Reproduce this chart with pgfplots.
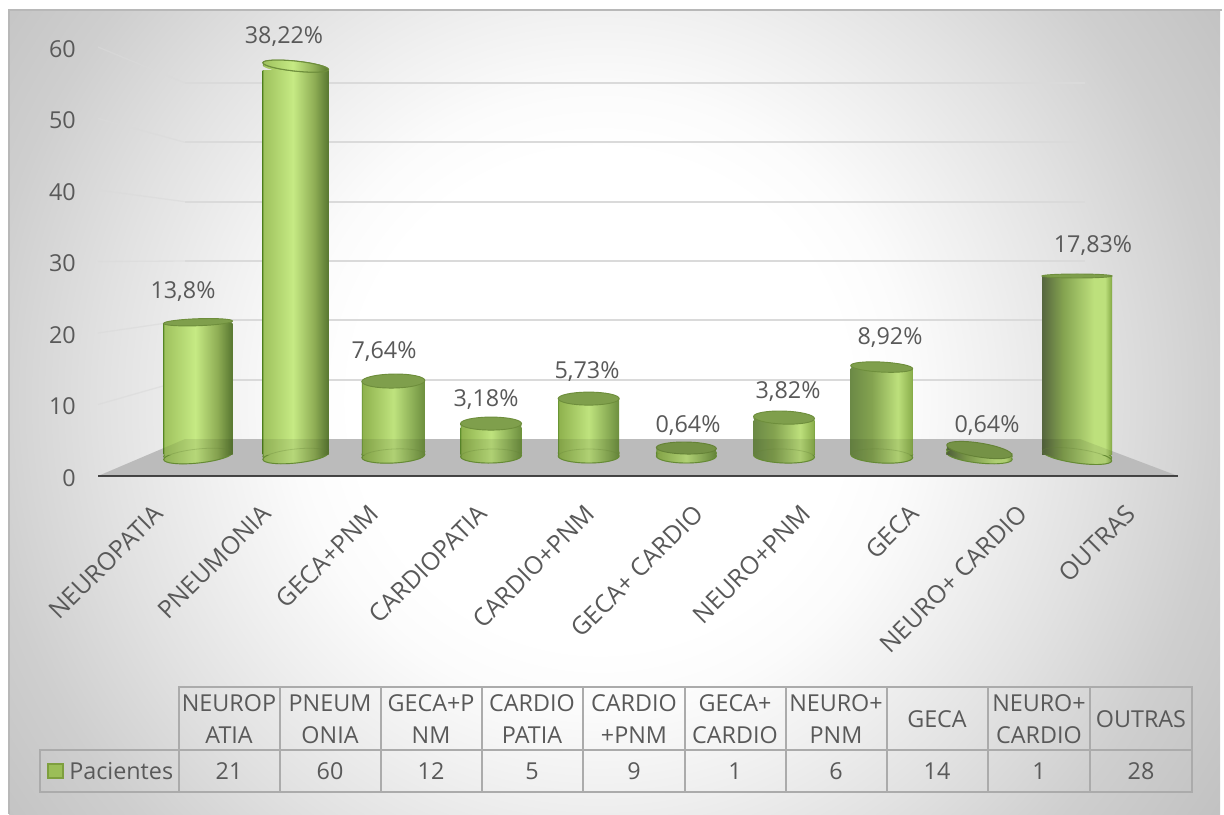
\documentclass[border=0pt]{standalone}
\usepackage{fontspec}
\setmainfont{Open Sans}
\usepackage{pgfplots}
\pgfplotsset{compat=1.18}

\definecolor{inkgray}{HTML}{595959}
\definecolor{gridgray}{HTML}{DADADA}
\definecolor{floorgray}{HTML}{CBCBCB}
\definecolor{tablegray}{HTML}{ABABAB}
\definecolor{rimgreen}{HTML}{6F9A38}
\definecolor{capgreen}{HTML}{7F9F4C}
\definecolor{capedge}{HTML}{6E8E3C}

% Backdrop glow: white around the middle, gray towards the corners
\pgfdeclareradialshading{backdrop}{\pgfpoint{0bp}{0bp}}{%
  color(0bp)=(white); color(10bp)=(white);
  rgb(12.5bp)=(0.985,0.985,0.985); rgb(16bp)=(0.94,0.94,0.94);
  rgb(20bp)=(0.885,0.885,0.885); rgb(25bp)=(0.81,0.81,0.81);
  rgb(30bp)=(0.76,0.76,0.76); rgb(50bp)=(0.76,0.76,0.76)}

% Cylinder body lighting, one for each side of the chart
\definecolor{la}{HTML}{9FC25E}\definecolor{lb}{HTML}{C6EA84}\definecolor{lc}{HTML}{8FAE55}\definecolor{ld}{HTML}{5B7A33}
\pgfdeclarehorizontalshading{cylA}{100bp}{color(0bp)=(rimgreen); color(25bp)=(rimgreen); color(25.7bp)=(la); color(48bp)=(lb); color(64bp)=(lc); color(74.3bp)=(ld); color(100bp)=(ld)}
\definecolor{ca}{HTML}{8FB24E}\definecolor{cb}{HTML}{BFE37E}\definecolor{cc}{HTML}{6F9140}
\pgfdeclarehorizontalshading{cylC}{100bp}{color(0bp)=(rimgreen); color(25bp)=(rimgreen); color(25.7bp)=(ca); color(50bp)=(cb); color(74.3bp)=(cc); color(75bp)=(rimgreen); color(100bp)=(rimgreen)}
\definecolor{da}{HTML}{56663F}\definecolor{db}{HTML}{84A350}\definecolor{dc}{HTML}{BDE07C}\definecolor{dd}{HTML}{8CB04D}
\pgfdeclarehorizontalshading{cylD}{100bp}{color(0bp)=(da); color(25bp)=(da); color(40bp)=(db); color(62bp)=(dc); color(70bp)=(dc); color(74.3bp)=(dd); color(75bp)=(rimgreen); color(100bp)=(rimgreen)}
\definecolor{ea}{HTML}{6C8A46}
\pgfdeclarehorizontalshading{cylE}{100bp}{color(0bp)=(ea); color(25bp)=(ea); color(42bp)=(db); color(63bp)=(dc); color(74.3bp)=(dd); color(75bp)=(rimgreen); color(100bp)=(rimgreen)}

\pgfdeclareplotmark{discA}{\pgfpathcircle{\pgfqpoint{0pt}{0pt}}{\pgfplotmarksize}\pgfshadepath{cylA}{0}\pgfusepath{stroke}}
\pgfdeclareplotmark{discC}{\pgfpathcircle{\pgfqpoint{0pt}{0pt}}{\pgfplotmarksize}\pgfshadepath{cylC}{0}\pgfusepath{stroke}}
\pgfdeclareplotmark{discD}{\pgfpathcircle{\pgfqpoint{0pt}{0pt}}{\pgfplotmarksize}\pgfshadepath{cylD}{0}\pgfusepath{stroke}}
\pgfdeclareplotmark{discE}{\pgfpathcircle{\pgfqpoint{0pt}{0pt}}{\pgfplotmarksize}\pgfshadepath{cylE}{0}\pgfusepath{stroke}}

% One cylinder.
% #1 category  #2 patients  #3 half width  #4 cap half height  #5 cap tilt
% #6 cap lift  #7 base tilt  #8 lighting  #9 cap fill
\newcommand{\cyl}[9]{%
  \addplot[forget plot, only marks, mark=disc#8, mark size=#3*0.75,
    mark options={draw=rimgreen, line width=0.7pt, yshift=6.5*0.75pt, rotate=#7, yscale=7/#3}] coordinates {(#1,0)};
  \addplot[forget plot, only marks, mark=disc#8, mark size=#3*0.75,
    mark options={draw=rimgreen, line width=0.7pt, yshift=3.5*0.75pt, rotate=#7, yscale=7/#3}] coordinates {(#1,0)};
  \addplot[forget plot, ybar, bar width=2*#3*0.75pt, bar shift=0pt, draw=none, shading=cyl#8] coordinates {(#1,#2)};
  \addplot[forget plot, only marks, mark=o, mark size=#3*0.75,
    mark options={draw=capedge, draw opacity=0.3, line width=0.6pt, yshift=3.5*0.75pt, rotate=#7, yscale=7/#3}] coordinates {(#1,0)};
  \addplot[forget plot, only marks, mark=disc#8, mark size=#3*0.75,
    mark options={draw opacity=0, yshift=#6*0.35*0.75pt, rotate=#5, yscale=#4/#3}] coordinates {(#1,#2)};
  \addplot[forget plot, only marks, mark=disc#8, mark size=#3*0.75,
    mark options={draw opacity=0, yshift=#6*0.7*0.75pt, rotate=#5, yscale=#4/#3}] coordinates {(#1,#2)};
  \addplot[forget plot, only marks, mark=*, mark size=#3*0.75,
    mark options={draw=capedge, fill=#9, line width=0.7pt, yshift=#6*0.75pt, rotate=#5, yscale=#4/#3}] coordinates {(#1,#2)};
}

\begin{document}
\begin{tikzpicture}
\path[use as bounding box] (0pt,0pt) rectangle (918pt,-610.5pt);

% Backdrop, floor and side-wall rulings, laid out on the full canvas
\begin{axis}[at={(0pt,-610.5pt)}, anchor=south west, scale only axis, width=918pt, height=610.5pt,
  xmin=0, xmax=1224, ymin=0, ymax=814, y dir=reverse, hide axis, clip=false]
  \begin{scope}
    \clip (9,10) rectangle (1222,814);
    \shade[shading=backdrop] (-20,-220) rectangle (1220,1020);
  \end{scope}
  \draw[color=black!28, line width=0.8pt] (9,814) -- (9,10) -- (1222,10);
  \fill[floorgray] (98,476) -- (185,439) -- (1080,439) -- (1178,476) -- cycle;
  \draw[gridgray, draw opacity=0.6, line width=1pt] (98,47) -- (185,83);
  \draw[gridgray, draw opacity=0.6, line width=1pt] (98,118.5) -- (185,142.3);
  \draw[gridgray, draw opacity=0.6, line width=1pt] (98,190) -- (185,201.7);
  \draw[gridgray, draw opacity=0.6, line width=1pt] (98,261.5) -- (185,261);
  \draw[gridgray, draw opacity=0.6, line width=1pt] (98,333) -- (185,320.3);
  \draw[gridgray, draw opacity=0.6, line width=1pt] (98,404.5) -- (185,379.7);
\end{axis}

% Rulings on the back wall
\begin{axis}[at={(138.75pt,-329.25pt)}, anchor=south west, scale only axis, width=675pt, height=267pt,
  xmin=0, xmax=1, ymin=0, ymax=60, ytick={10,20,30,40,50,60}, xtick=\empty, yticklabels={},
  ymajorgrids, grid style={gridgray, line width=1.3pt}, major tick length=0pt, axis line style={draw=none}, clip=false]
\end{axis}

% Cylinders, one value per category; each plot keeps its own place in the stack
\begin{axis}[at={(75.25pt,-340.74pt)}, anchor=south west, scale only axis, width=805.78pt, height=312.5pt,
  xmin=-1, xmax=10, ymin=0.8, ymax=65, hide axis, clip=false, clip mode=individual]
  \cyl{0}{21}{34.5}{3.5}{2}{1}{6}{A}{capgreen}
  \cyl{1}{60}{33}{5}{-6}{4}{6}{A}{capgreen}
  % the tallest top is seen from below, so it keeps the body's lighting
  \addplot[forget plot, only marks, mark=discA, mark size=33*0.75,
    mark options={draw=capedge, line width=0.8pt, yshift=4*0.75pt, rotate=-6, yscale=5/33}] coordinates {(1,60)};
  \cyl{2}{12}{31.5}{7}{1}{0.6}{3}{C}{capgreen}
  \cyl{3}{5}{30.5}{6.5}{0}{3.5}{1}{C}{capgreen}
  \cyl{4}{9}{30.5}{6.5}{0}{2.5}{0}{C}{capgreen}
  \cyl{5}{1}{30}{6}{-1}{5}{0}{C}{capgreen}
  \cyl{6}{6}{30.5}{6.5}{-2}{3}{-2}{E}{capgreen}
  \cyl{7}{14}{31}{5}{-3}{1.6}{-3}{E}{capgreen}
  \cyl{8}{1}{33}{7}{-9}{3}{-6}{D}{capgreen}
  \cyl{9}{28}{35}{2}{0}{1.8}{-8}{D}{capgreen}
\end{axis}

% Front edge of the floor with the value and category labels
\begin{axis}[at={(73.5pt,-357pt)}, anchor=south west, scale only axis, width=810pt, height=321.75pt,
  xmin=-0.5, xmax=9.5, ymin=0, ymax=60,
  axis x line=bottom, axis y line=left,
  x axis line style={draw=black!72, line width=2.2pt, -},
  y axis line style={draw=none},
  major tick length=0pt,
  ytick={0,10,20,30,40,50,60},
  xtick={0,1,2,3,4,5,6,7,8,9},
  xticklabels={NEUROPATIA,PNEUMONIA,GECA+PNM,CARDIOPATIA,CARDIO+PNM,GECA+ CARDIO,NEURO+PNM,GECA,NEURO+ CARDIO,OUTRAS},
  /pgf/number format/assume math mode=true,
  tick label style={color=inkgray, font=\fontsize{17.5}{21}\selectfont},
  yticklabel style={anchor=east, inner sep=0pt, xshift=-16.5pt, yshift=-1.5pt},
  xticklabel style={font=\fontsize{18.5}{21}\selectfont, anchor=east, inner sep=0pt, xshift=5pt, yshift=-25pt, rotate=45},
  clip=false]
\end{axis}

% Percentages above the cylinders and the data table below
\begin{axis}[at={(0pt,-610.5pt)}, anchor=south west, scale only axis, width=918pt, height=610.5pt,
  xmin=0, xmax=1224, ymin=0, ymax=814, y dir=reverse, hide axis, clip=false]
  \tikzset{pct/.style={text=inkgray, font=\fontsize{17.5}{21}\selectfont, inner sep=0pt},
           cell/.style={text=inkgray, font=\fontsize{17.5}{24}\selectfont, inner sep=0pt, align=center}}
  % floor tone showing through the lower part of the translucent cylinders
  \fill[black, fill opacity=0.08] (98,476) -- (185,439) -- (1080,439) -- (1178,476) -- cycle;
  \node[pct] at (183,292) {13,8\%};
  \node[pct] at (284,37) {38,22\%};
  \node[pct] at (384,352) {7,64\%};
  \node[pct] at (486,400) {3,18\%};
  \node[pct] at (587,372) {5,73\%};
  \node[pct] at (688,426) {0,64\%};
  \node[pct] at (788,392) {3,82\%};
  \node[pct] at (890,338) {8,92\%};
  \node[pct] at (987,426) {0,64\%};
  \node[pct] at (1093,246) {17,83\%};

  \draw[tablegray, line width=1.3pt] (179,687) rectangle (1192,792);
  \draw[tablegray, line width=1.3pt] (40,750) rectangle (179,792);
  \draw[tablegray, line width=1.3pt] (179,750) -- (1192,750);
  \draw[tablegray, line width=1.3pt] (280,687) -- (280,792);
  \draw[tablegray, line width=1.3pt] (381,687) -- (381,792);
  \draw[tablegray, line width=1.3pt] (482,687) -- (482,792);
  \draw[tablegray, line width=1.3pt] (583,687) -- (583,792);
  \draw[tablegray, line width=1.3pt] (685,687) -- (685,792);
  \draw[tablegray, line width=1.3pt] (786,687) -- (786,792);
  \draw[tablegray, line width=1.3pt] (887,687) -- (887,792);
  \draw[tablegray, line width=1.3pt] (988,687) -- (988,792);
  \draw[tablegray, line width=1.3pt] (1090,687) -- (1090,792);
  \node[cell] at (229,719) {NEUROP\\ATIA};
  \node[cell] at (330,719) {PNEUM\\ONIA};
  \node[cell] at (431,719) {GECA+P\\NM};
  \node[cell] at (532,719) {CARDIO\\PATIA};
  \node[cell] at (634,719) {CARDIO\\+PNM};
  \node[cell] at (735,719) {GECA+\\CARDIO};
  \node[cell] at (836,719) {NEURO+\\PNM};
  \node[cell] at (937,719) {GECA};
  \node[cell] at (1039,719) {NEURO+\\CARDIO};
  \node[cell] at (1141,719) {OUTRAS};
  \node[cell] at (229,771) {21};
  \node[cell] at (330,771) {60};
  \node[cell] at (431,771) {12};
  \node[cell] at (532,771) {5};
  \node[cell] at (634,771) {9};
  \node[cell] at (735,771) {1};
  \node[cell] at (836,771) {6};
  \node[cell] at (937,771) {14};
  \node[cell] at (1039,771) {1};
  \node[cell] at (1141,771) {28};
  \definecolor{keyfill}{HTML}{9BBE57}\definecolor{keyedge}{HTML}{7E9F3E}
  \draw[fill=keyfill, draw=keyedge, line width=1.2pt] (48,764) rectangle (63,778);
  \node[cell, anchor=west] at (69,771) {Pacientes};
\end{axis}
\end{tikzpicture}
\end{document}
